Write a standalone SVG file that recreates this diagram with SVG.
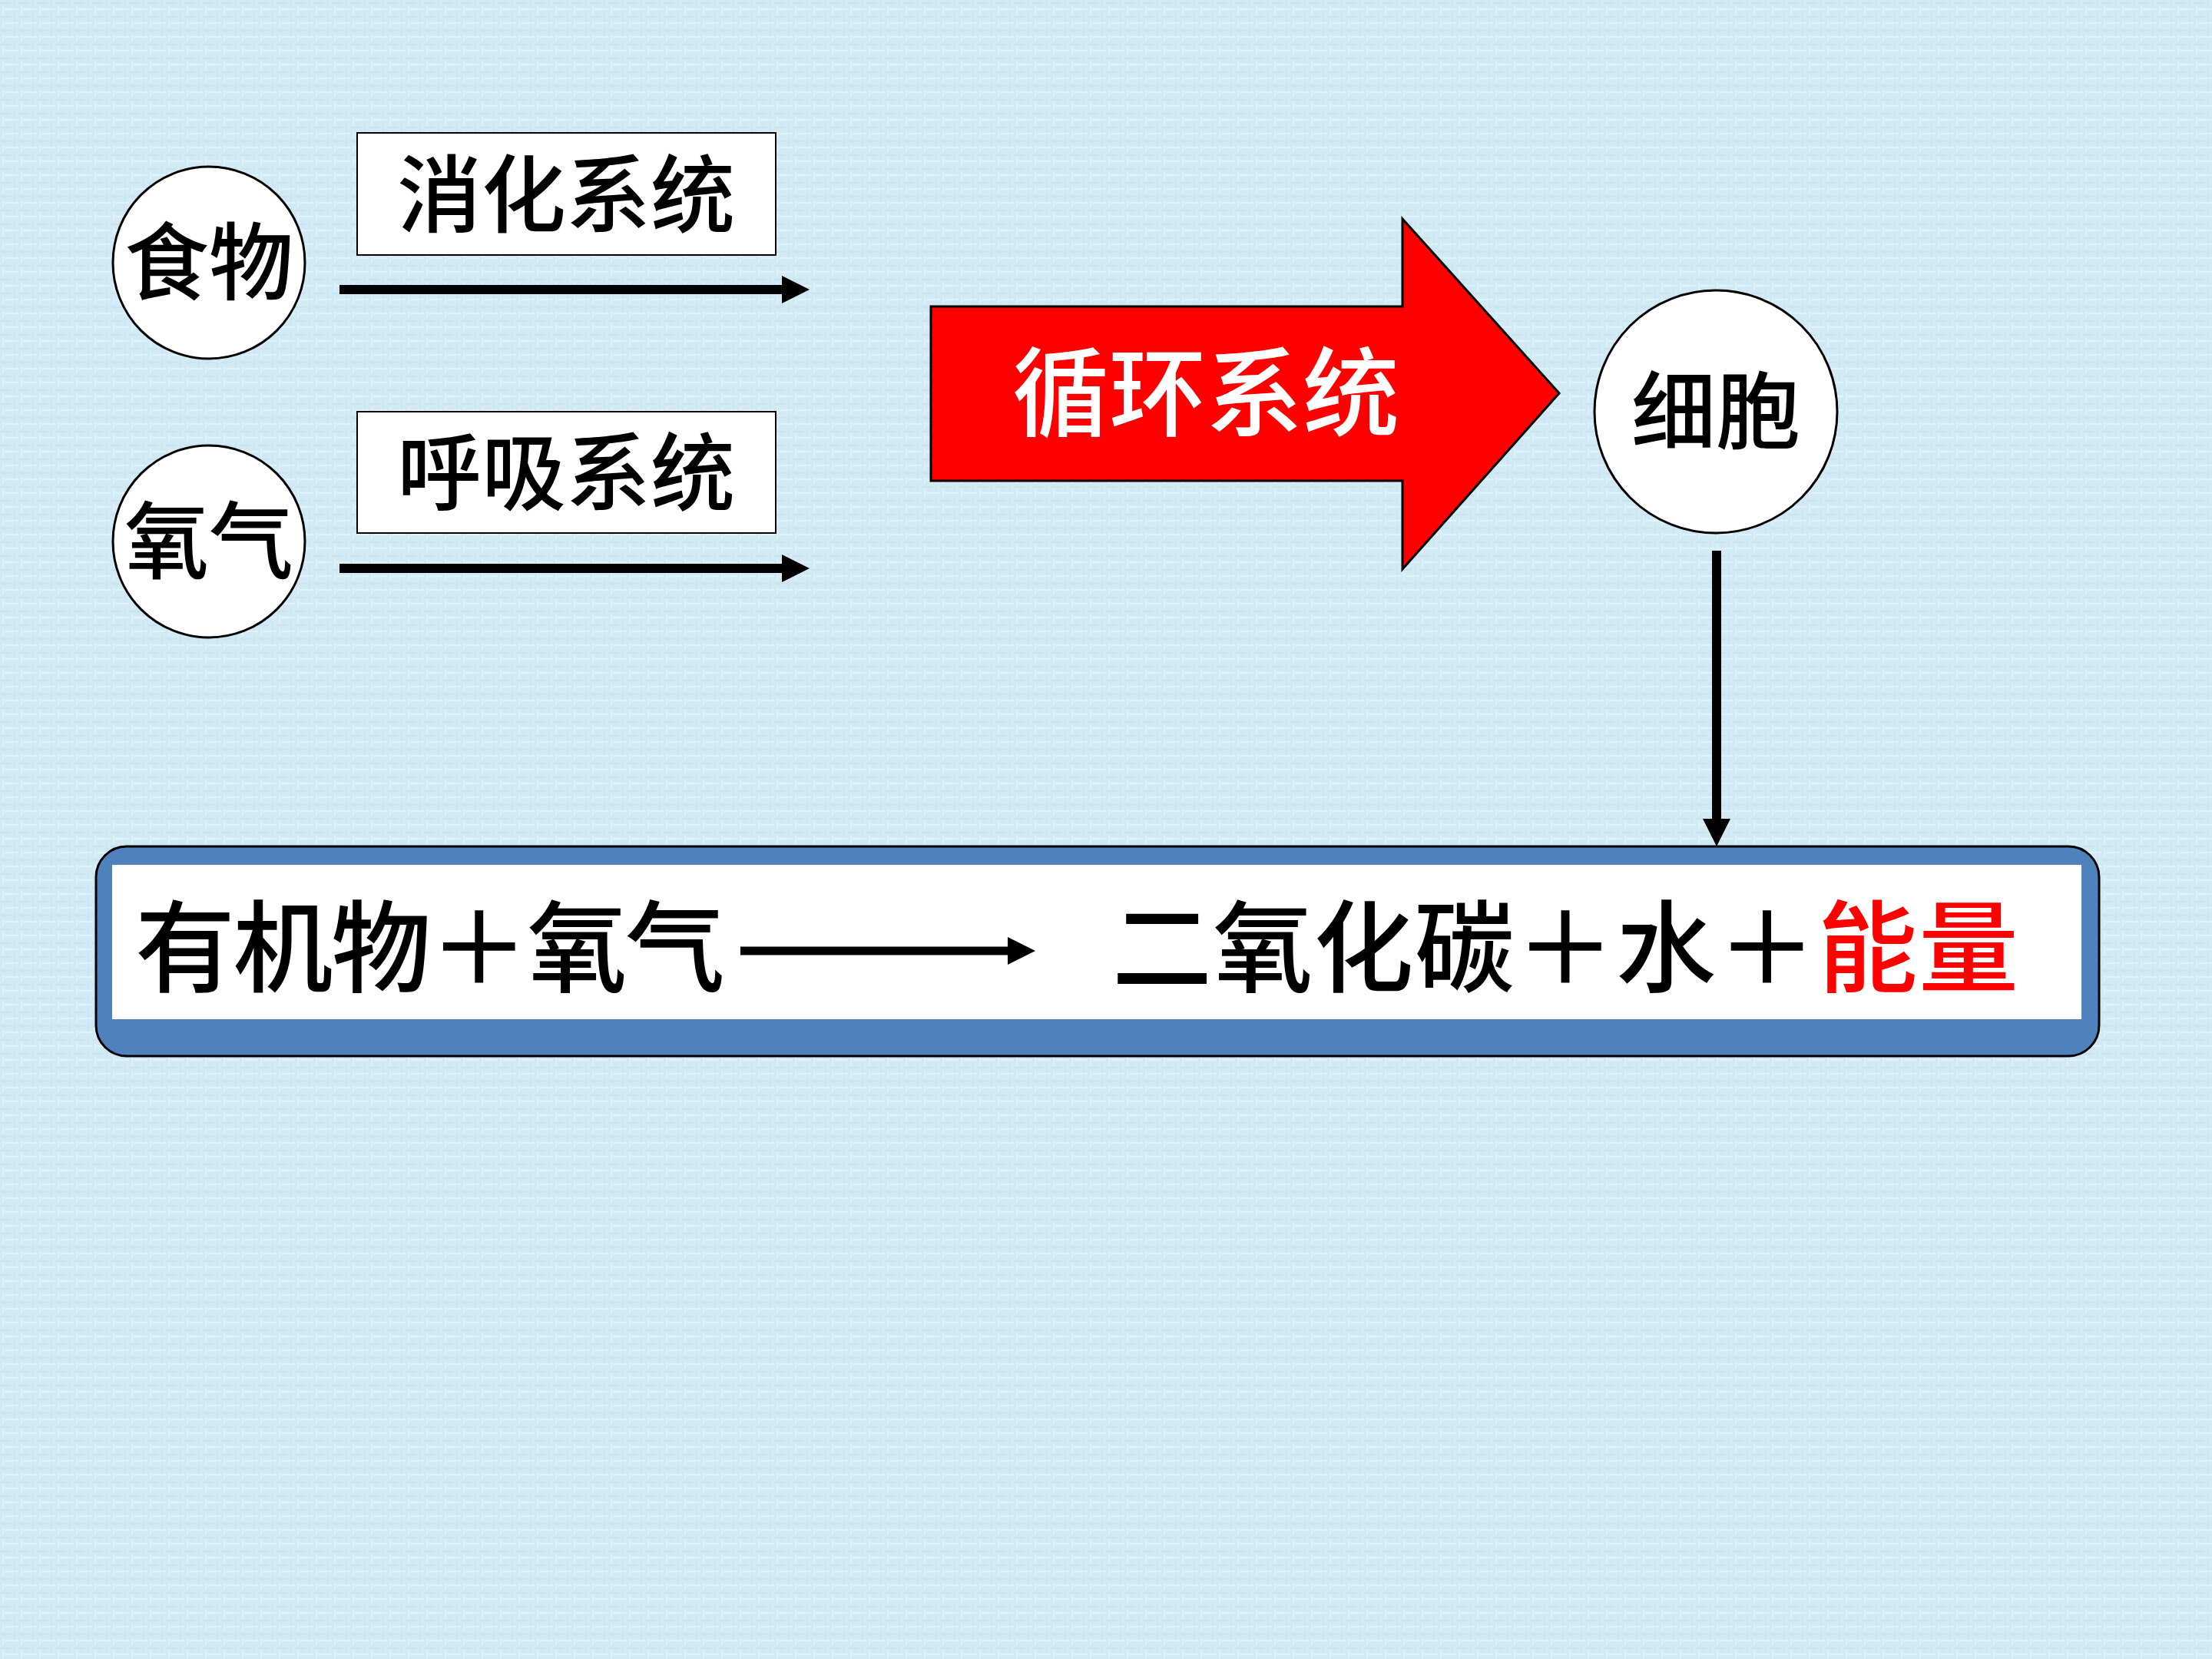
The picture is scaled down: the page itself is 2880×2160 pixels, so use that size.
<svg xmlns="http://www.w3.org/2000/svg" width="2880" height="2160" viewBox="0 0 2880 2160">
<defs>
<style>
.cjk{font-family:"Noto Sans CJK SC","Noto Sans CJK TC",sans-serif;font-weight:500;}
.node{fill:#ffffff;stroke:#000000;stroke-width:3;}
.lbl{font-size:110px;fill:#000000;text-anchor:middle;}
.conn{stroke:#000000;stroke-width:12;fill:none;}
</style>
<marker id="ah" viewBox="0 0 36 36" refX="0" refY="18" markerWidth="36" markerHeight="36" markerUnits="userSpaceOnUse" orient="auto">
<path d="M0,0 L36,18 L0,36 Z" fill="#000000"/>
</marker>
<pattern id="tex" width="24" height="18" patternUnits="userSpaceOnUse">
<rect width="24" height="18" fill="#d1eaf5"/>
<rect x="0" y="3" width="14" height="2" fill="#c0dfec" opacity="0.6"/>
<rect x="6" y="11" width="18" height="2" fill="#e4f5fc" opacity="0.8"/>
<rect x="18" y="0" width="2" height="10" fill="#c2e0ed" opacity="0.5"/>
<rect x="3" y="8" width="2" height="10" fill="#e2f4fb" opacity="0.7"/>
</pattern>
</defs>
<rect x="0" y="0" width="2880" height="2160" fill="url(#tex)"/>

<g id="connectors">
<line class="conn" x1="442" y1="377" x2="1018" y2="377" marker-end="url(#ah)"/>
<line class="conn" x1="442" y1="740" x2="1018" y2="740" marker-end="url(#ah)"/>
<line class="conn" x1="2235" y1="717" x2="2235" y2="1066" stroke-width="10" marker-end="url(#ah)"/>
</g>

<g id="node-food">
<circle class="node" cx="272" cy="342" r="125"/>
<text class="cjk lbl" x="272" y="382">食物</text>
</g>
<g id="node-oxygen">
<circle class="node" cx="272" cy="705" r="125"/>
<text class="cjk lbl" x="272" y="745">氧气</text>
</g>
<g id="node-digestive">
<rect x="465" y="173" width="545" height="159" fill="#ffffff" stroke="#000000" stroke-width="2"/>
<text class="cjk lbl" x="737" y="294">消化系统</text>
</g>
<g id="node-respiratory">
<rect x="465" y="536" width="545" height="158" fill="#ffffff" stroke="#000000" stroke-width="2"/>
<text class="cjk lbl" x="737" y="656">呼吸系统</text>
</g>
<g id="node-circulatory">
<polygon points="1212,399 1826,399 1826,285 2030,512 1826,741 1826,626 1212,626" fill="#ff0000" stroke="#000000" stroke-width="3"/>
<text class="cjk" x="1570" y="558" font-size="126" fill="#ffffff" text-anchor="middle">循环系统</text>
</g>
<g id="node-cell">
<circle class="node" cx="2234" cy="536" r="158"/>
<text class="cjk lbl" x="2234" y="576">细胞</text>
</g>
<g id="node-equation">
<rect x="125" y="1102" width="2608" height="273" rx="40" ry="40" fill="#4f81bd" stroke="#000000" stroke-width="3"/>
<rect x="146" y="1126" width="2564" height="201" fill="#ffffff"/>
<text class="cjk" x="176" y="1281" font-size="130" fill="#000000" textLength="768" lengthAdjust="spacing">有机物＋氧气</text>
<line x1="964" y1="1238" x2="1314" y2="1238" stroke="#000000" stroke-width="11"/>
<path d="M1312,1220 L1348,1238 L1312,1256 Z" fill="#000000"/>
<text class="cjk" x="1448" y="1281" font-size="130" fill="#000000" textLength="1180" lengthAdjust="spacing">二氧化碳＋水＋<tspan fill="#ff0000">能量</tspan></text>
</g>
</svg>
